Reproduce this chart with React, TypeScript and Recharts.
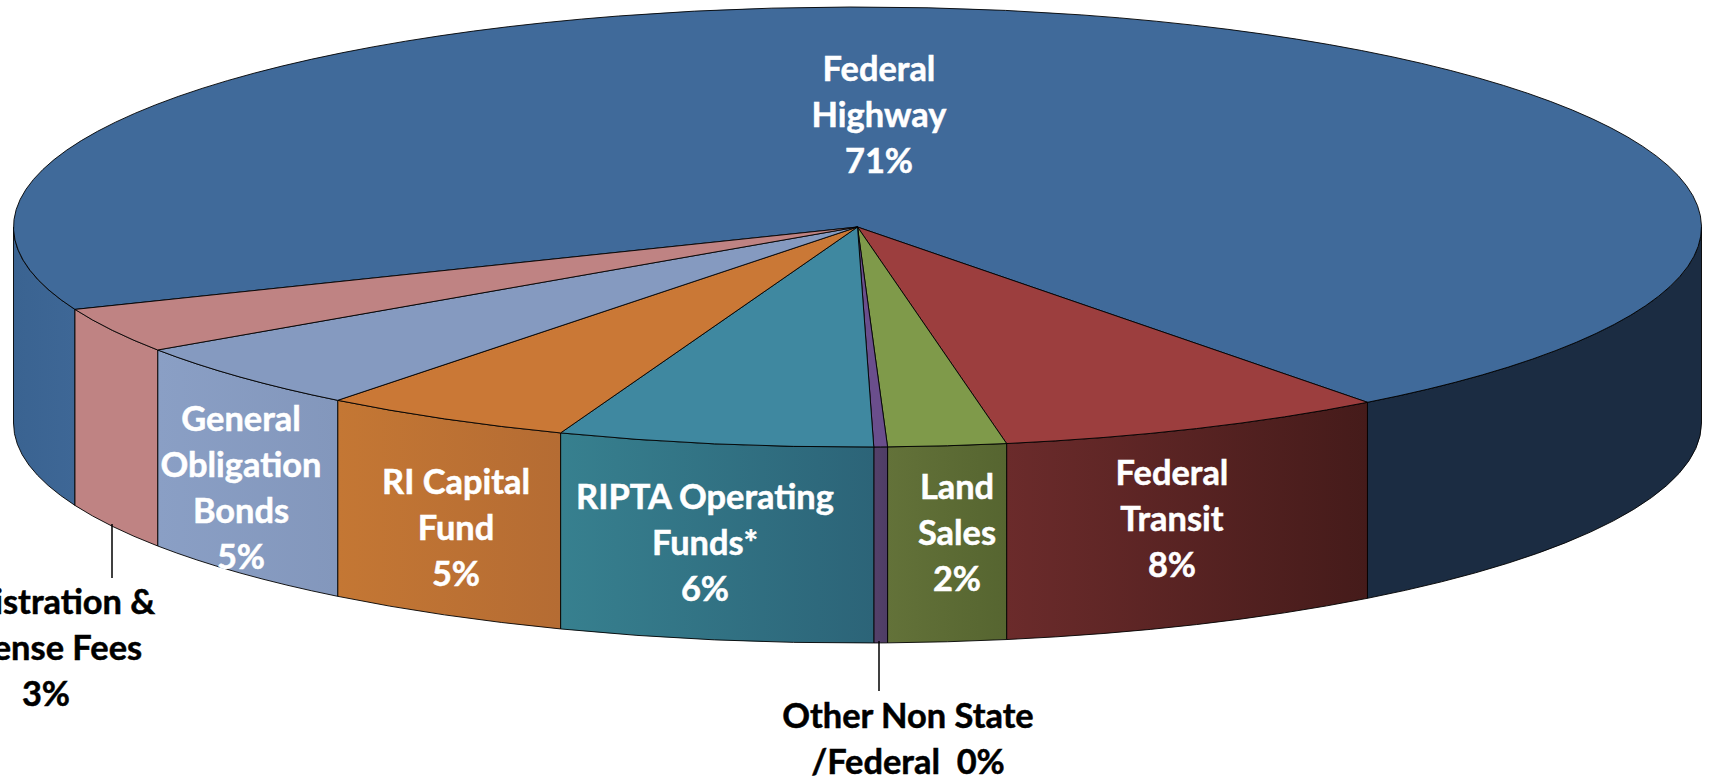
import React from 'react';
import { PieChart, Pie } from 'recharts';

const names = ['Federal Highway', 'Federal Transit', 'Land Sales', 'Other Non State /Federal', 'RIPTA Operating Funds*', 'RI Capital Fund', 'General Obligation Bonds', 'Registration & License Fees'];
const shares = [70.8, 7.5, 2.26, 0.26, 6.03, 4.84, 5.0, 3.33];
const topColors = ['#406A9A', '#9C3E3E', '#7F9A4A', '#6A4E8C', '#3F88A0', '#CA7836', '#859AC0', '#BF8383'];
// per slice, per visible wall piece: [left colour, right colour]
const wallColors = [
  [['#3A6391', '#3E6796'], ['#1B2C42', '#1B2C42']],
  [['#6B2B2B', '#451B1A']],
  [['#637239', '#566530']],
  [['#544069', '#4E3D65']],
  [['#37808F', '#2C6478']],
  [['#C47734', '#B56C33']],
  [['#8A9FC5', '#8397BC']],
  [['#BF8383', '#BF8383']],
];
const labelLines = [
  ['Federal', 'Highway', '71%'],
  ['Federal', 'Transit', '8%'],
  ['Land', 'Sales', '2%'],
  ['Other Non State', '/Federal  0%'],
  ['RIPTA Operating', 'Funds*', '6%'],
  ['RI Capital', 'Fund', '5%'],
  ['General', 'Obligation', 'Bonds', '5%'],
  ['Registration &', 'License Fees', '3%'],
];
const labelX = [879, 1172, 957, 908, 705, 456, 241, 46];
const labelY = [81, 485, 499, 728, 509, 494, 431, 614];
const labelFill = ['#fff', '#fff', '#fff', '#000', '#fff', '#fff', '#fff', '#000'];
const leaders: (number[] | null)[] = [null, null, null, [879, 641, 691], null, null, null, [112, 524, 578]];

const CX = 857.5;
const CY = 227;
const RX = 844;
const SQUASH = 220 / 844;
const DEPTH = 196;
const LINE_H = 46;
const FONT = 'Lato, "Open Sans", sans-serif';

const data = names.map((name, i) => ({ name, value: shares[i] }));

function Slice3D(props: any) {
  const { cx, cy, outerRadius, startAngle, endAngle, index } = props;
  const rx = outerRadius;
  const ry = outerRadius * SQUASH;
  const i = index ?? names.indexOf(props.name);
  const t0 = -startAngle;
  const t1 = -endAngle;
  const pt = (t: number) => {
    const r = (t * Math.PI) / 180;
    return [cx + rx * Math.cos(r), cy + ry * Math.sin(r)];
  };
  const [sx, sy] = pt(t0);
  const [ex, ey] = pt(t1);
  const large = t1 - t0 > 180 ? 1 : 0;
  const top = `M${cx},${cy} L${sx},${sy} A${rx},${ry} 0 ${large} 1 ${ex},${ey} Z`;
  const arcs: [number, number][] = [];
  for (const k of [-360, 0, 360]) {
    const a = Math.max(t0 + k, 0);
    const b = Math.min(t1 + k, 180);
    if (b > a) arcs.push([a, b]);
  }
  arcs.sort((p, q) => q[0] - p[0]);
  return (
    <g>
      {arcs.map(([a, b], j) => {
        const [ax, ay] = pt(a);
        const [bx, by] = pt(b);
        const id = `wall-${i}-${j}`;
        const colors = wallColors[i][j] || wallColors[i][0];
        const d = `M${ax},${ay} A${rx},${ry} 0 0 1 ${bx},${by} L${bx},${by + DEPTH} A${rx},${ry} 0 0 0 ${ax},${ay + DEPTH} Z`;
        return (
          <g key={id}>
            <defs>
              <linearGradient id={id} x1="0" y1="0" x2="1" y2="0">
                <stop offset="0" stopColor={colors[0]} />
                <stop offset="1" stopColor={colors[1]} />
              </linearGradient>
            </defs>
            <path d={d} fill={`url(#${id})`} stroke="#000" strokeWidth={0.9} strokeLinejoin="round" />
          </g>
        );
      })}
      <path d={top} fill={topColors[i]} stroke="#000" strokeWidth={0.9} strokeLinejoin="round" />
    </g>
  );
}

function SliceLabel(props: any) {
  const i = props.index;
  const leader = leaders[i];
  return (
    <g>
      {leader && <line x1={leader[0]} x2={leader[0]} y1={leader[1]} y2={leader[2]} stroke="#000" strokeWidth={1.5} />}
      {labelLines[i].map((t, j) => (
        <text
          key={j}
          x={labelX[i]}
          y={labelY[i] + j * LINE_H}
          textAnchor="middle"
          fill={labelFill[i]}
          stroke={labelFill[i]}
          strokeWidth={0.5}
          fontFamily={FONT}
          fontWeight={700}
          fontSize={34.4}
          xmlSpace="preserve"
        >
          {t}
        </text>
      ))}
    </g>
  );
}

export default function App() {
  return (
    <div style={{ position: 'fixed', left: 0, top: 0, width: 1710, height: 781, background: '#fff', overflow: 'hidden' }}>
      <PieChart width={1710} height={781} margin={{ top: 0, right: 0, bottom: 0, left: 0 }}>
        <Pie
          data={data}
          dataKey="value"
          nameKey="name"
          cx={CX}
          cy={CY}
          innerRadius={0}
          outerRadius={RX}
          startAngle={202}
          endAngle={-158}
          paddingAngle={0}
          isAnimationActive={false}
          shape={Slice3D}
          label={SliceLabel}
          labelLine={false}
        />
      </PieChart>
    </div>
  );
}
